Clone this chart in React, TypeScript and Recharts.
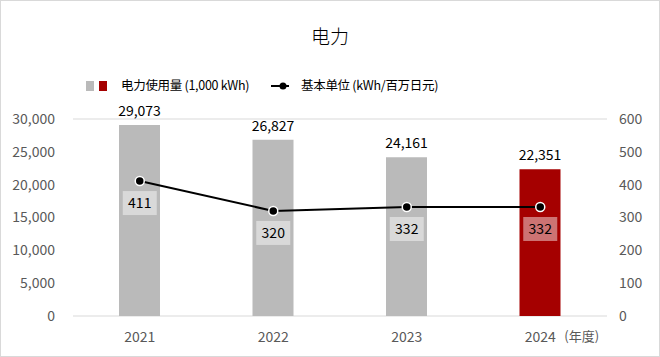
import React from "react";
import { ComposedChart, Bar, Line, XAxis, YAxis, CartesianGrid, Cell, LabelList } from "recharts";

const years = ["2021", "2022", "2023", "2024"];
const usage = [29073, 26827, 24161, 22351];
const intensity = [411, 320, 332, 332];
const leftTicks = [0, 5000, 10000, 15000, 20000, 25000, 30000];
const rightTicks = [0, 100, 200, 300, 400, 500, 600];
const barColors = ["#bababa", "#bababa", "#bababa", "#a50000"];

const data = years.map((y, i) => ({ year: y, usage: usage[i], intensity: intensity[i] }));

const FONT = "'Noto Sans CJK JP', 'Noto Sans', sans-serif";

const XTick = (props: any) => {
  const { x, y, payload, index } = props;
  const isLast = index === years.length - 1;
  return (
    <g>
      <text x={x} y={y + 18} textAnchor="middle" fontSize={14} fill="#595959" fontFamily={FONT}>
        {payload.value}
      </text>
      {isLast && (
        <text x={x + 24} y={y + 17} textAnchor="start" fontSize={13} fill="#595959" fontFamily={FONT}>
          (年度)
        </text>
      )}
    </g>
  );
};

const LineLabel = (props: any) => {
  const { x, y, value } = props;
  return (
    <g>
      <rect x={x - 17} y={y + 10} width={34} height={24} fill="#ffffff" fillOpacity={0.45} />
      <text x={x} y={y + 27} textAnchor="middle" fontSize={14} fill="#000" fontFamily={FONT}>
        {value}
      </text>
    </g>
  );
};

const fmt = (v: number) => v.toLocaleString("en-US");

export default function App() {
  return (
    <div style={{ position: "absolute", left: 0, top: 0, width: 660, height: 357, background: "#fff", fontFamily: FONT }}>
      <div style={{ position: "absolute", left: 0, top: 0, width: 658, height: 355, border: "1px solid #d9d9d9" }} />
      <div style={{ position: "absolute", left: 0, top: 22, width: 660, textAlign: "center", fontSize: 19, fontWeight: 300, color: "#000", lineHeight: "28px" }}>
        电力
      </div>
      <div style={{ position: "absolute", left: 86, top: 76, height: 18, fontSize: 12.5, color: "#000", lineHeight: "18px", whiteSpace: "nowrap" }}>
        <span style={{ position: "absolute", left: 0, top: 5, width: 8, height: 10, background: "#bababa" }} />
        <span style={{ position: "absolute", left: 13, top: 5, width: 8, height: 10, background: "#a50000" }} />
        <span style={{ position: "absolute", left: 35, top: 0, letterSpacing: -0.3 }}>电力使用量 (1,000 kWh)</span>
        <svg style={{ position: "absolute", left: 185, top: 1 }} width={20} height={18}>
          <line x1={0} y1={9} x2={18} y2={9} stroke="#000" strokeWidth={2} />
          <circle cx={12} cy={9} r={3.5} fill="#000" />
        </svg>
        <span style={{ position: "absolute", left: 215, top: 0, letterSpacing: -0.3 }}>基本单位 (kWh/百万日元)</span>
      </div>
      <div style={{ position: "absolute", left: 0, top: 0 }}>
        <ComposedChart width={660} height={357} data={data} margin={{ top: 119, right: 0, bottom: 0, left: 0 }}>
          <CartesianGrid vertical={false} stroke="#d9d9d9" strokeWidth={1} />
          <XAxis dataKey="year" axisLine={false} tickLine={false} tick={<XTick />} height={41} interval={0} />
          <YAxis
            yAxisId="left"
            domain={[0, 30000]}
            ticks={leftTicks}
            width={73}
            axisLine={false}
            tickLine={false}
            tickFormatter={fmt}
            tick={{ fontSize: 14, fill: "#595959", fontFamily: FONT }}
            tickMargin={12}
          />
          <YAxis
            yAxisId="right"
            orientation="right"
            domain={[0, 600]}
            ticks={rightTicks}
            width={53}
            axisLine={false}
            tickLine={false}
            tick={{ fontSize: 14, fill: "#595959", fontFamily: FONT, textAnchor: "start" }}
            tickMargin={6}
          />
          <Bar yAxisId="left" dataKey="usage" barSize={41} isAnimationActive={false}>
            {data.map((_, i) => (
              <Cell key={i} fill={barColors[i]} />
            ))}
            <LabelList dataKey="usage" position="top" offset={9} formatter={(v: any) => fmt(Number(v))} style={{ fontSize: 14, fill: "#000", fontFamily: FONT }} />
          </Bar>
          <Line
            yAxisId="right"
            dataKey="intensity"
            stroke="#000"
            strokeWidth={2}
            dot={{ r: 4.5, fill: "#000", stroke: "#fff", strokeWidth: 1.5 }}
            isAnimationActive={false}
          >
            <LabelList dataKey="intensity" content={<LineLabel />} />
          </Line>
        </ComposedChart>
      </div>
    </div>
  );
}
